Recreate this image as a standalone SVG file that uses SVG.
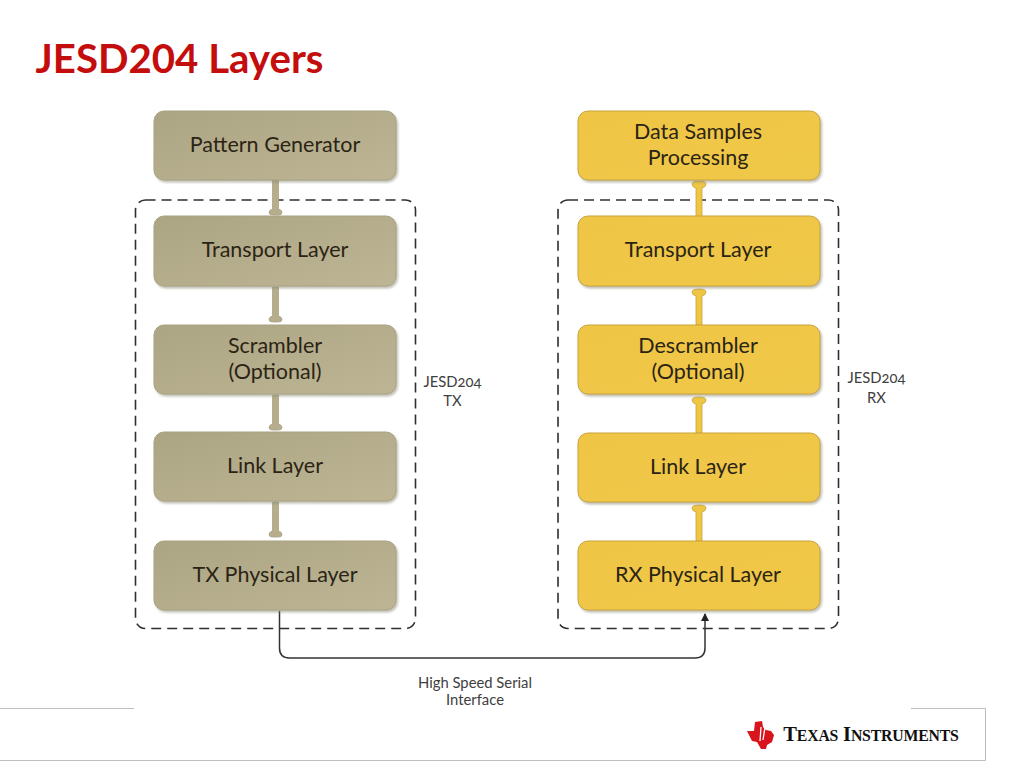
<svg xmlns="http://www.w3.org/2000/svg" width="1024" height="768" viewBox="0 0 1024 768">
<style>
text{font-family:"Lato","Open Sans","Liberation Sans",sans-serif;text-anchor:middle}
.n{font-size:21.500px;fill:#2b2415}
.s{font-size:14.800px;fill:#404040;font-variant-numeric:oldstyle-nums}
.t{fill:url(#tan);stroke:#a9a283;stroke-width:1;filter:url(#sh)}
.y{fill:url(#yel);stroke:#c9a43c;stroke-width:1;filter:url(#sh)}
.ta{fill:#b5ad8b;stroke:#a8a285;stroke-width:.8}
.ya{fill:#efc644;stroke:#c6a23f;stroke-width:.8}
.d{fill:none;stroke:#2f2f2f;stroke-width:1.600;stroke-dasharray:10 6}
</style>
<defs>
<linearGradient id="tan" x1="0" y1="0" x2="1" y2="1"><stop offset="0" stop-color="#aca583"/><stop offset="1" stop-color="#bdb594"/></linearGradient>
<linearGradient id="yel" x1="0" y1="0" x2="1" y2="1"><stop offset="0" stop-color="#efc544"/><stop offset="1" stop-color="#f0c848"/></linearGradient>
<filter id="sh" x="-5%" y="-5%" width="112%" height="120%"><feDropShadow dx="1.500" dy="2" stdDeviation="1.200" flood-color="#8a8a78" flood-opacity=".55"/></filter>
<marker id="ah" markerWidth="9" markerHeight="9" refX="7" refY="4" orient="auto" markerUnits="userSpaceOnUse"><path d="M0 0L8 4L0 8z" fill="#222"/></marker>
<path id="dn" d="M-3 0H3V29Q6.500 30 6.500 32.500Q6.500 35 3 35H-3Q-6.500 35-6.500 32.500Q-6.500 30-3 29Z"/>
<path id="up" d="M-3 0H3V-29Q7 -30 7 -33Q7 -36 0 -36Q-7 -36-7 -33Q-7 -30-3 -29Z"/>
</defs>
<rect width="1024" height="768" fill="#fff"/>
<text x="179.500" y="73" style="font-size:40.200px;font-weight:700;fill:#c40d0d">JESD204 Layers</text>
<g id="connectors">
<rect class="d" x="135.500" y="200" width="280" height="428.500" rx="10"/>
<rect class="d" x="558" y="200" width="280.500" height="428.500" rx="10"/>
<use href="#dn" class="ta" x="275.500" y="180"/>
<use href="#dn" class="ta" x="275.500" y="287"/>
<use href="#dn" class="ta" x="275.500" y="395"/>
<use href="#dn" class="ta" x="275.500" y="502"/>
<use href="#up" class="ya" x="699" y="217"/>
<use href="#up" class="ya" x="699" y="325"/>
<use href="#up" class="ya" x="699" y="433"/>
<use href="#up" class="ya" x="699" y="541"/>
<path d="M279.500 611V648Q279.500 658 289.500 658H695Q705 658 705 648V614" fill="none" stroke="#333" stroke-width="1.500" marker-end="url(#ah)"/>
</g>
<g id="pattern-generator"><rect class="t" x="154" y="111" width="242" height="69" rx="10"/><text class="n" x="275" y="152">Pattern Generator</text></g>
<g id="tx-transport"><rect class="t" x="154" y="216" width="242" height="70" rx="10"/><text class="n" x="275" y="257">Transport Layer</text></g>
<g id="scrambler"><rect class="t" x="154" y="325" width="242" height="69" rx="10"/><text class="n" x="275" y="353">Scrambler</text><text class="n" x="275" y="379">(Optional)</text></g>
<g id="tx-link"><rect class="t" x="154" y="432" width="242" height="69" rx="10"/><text class="n" x="275" y="473">Link Layer</text></g>
<g id="tx-physical"><rect class="t" x="154" y="541" width="242" height="69" rx="10"/><text class="n" x="275" y="582">TX Physical Layer</text></g>
<g id="data-samples"><rect class="y" x="578" y="111" width="242" height="69" rx="10"/><text class="n" x="698" y="139">Data Samples</text><text class="n" x="698" y="165">Processing</text></g>
<g id="rx-transport"><rect class="y" x="578" y="216" width="242" height="70" rx="10"/><text class="n" x="698" y="257">Transport Layer</text></g>
<g id="descrambler"><rect class="y" x="578" y="325" width="242" height="69" rx="10"/><text class="n" x="698" y="353">Descrambler</text><text class="n" x="698" y="379">(Optional)</text></g>
<g id="rx-link"><rect class="y" x="578" y="433" width="242" height="69" rx="10"/><text class="n" x="698" y="474">Link Layer</text></g>
<g id="rx-physical"><rect class="y" x="578" y="541" width="242" height="69" rx="10"/><text class="n" x="698" y="582">RX Physical Layer</text></g>
<g id="labels">
<text class="s" x="452.500" y="387">JESD204</text><text class="s" x="452.500" y="406">TX</text>
<text class="s" x="876.500" y="383">JESD204</text><text class="s" x="876.500" y="403">RX</text>
<text class="s" x="475" y="688">High Speed Serial</text><text class="s" x="475" y="705">Interface</text>
</g>
<g id="footer">
<path d="M0 708.500H134M911 708.500H985.500V760.500H0" fill="none" stroke="#bdbdbd" stroke-width="1"/>
<path d="M747 731H754L755 722L762 721L763 727L766 730L771 731L774 735L772 742L767 745L766 749L761 749L757 742L752 741Z" fill="#d8141c"/>
<path d="M761 727L760 741M765 727L763 740" stroke="#fff" stroke-width="1.300" fill="none"/>
<text x="871" y="741" style="font-family:'Liberation Serif',serif;font-size:20.500px;font-weight:700;fill:#111;letter-spacing:-.2px">T<tspan font-size="15.800">EXAS</tspan> I<tspan font-size="15.800">NSTRUMENTS</tspan></text>
</g>
</svg>
